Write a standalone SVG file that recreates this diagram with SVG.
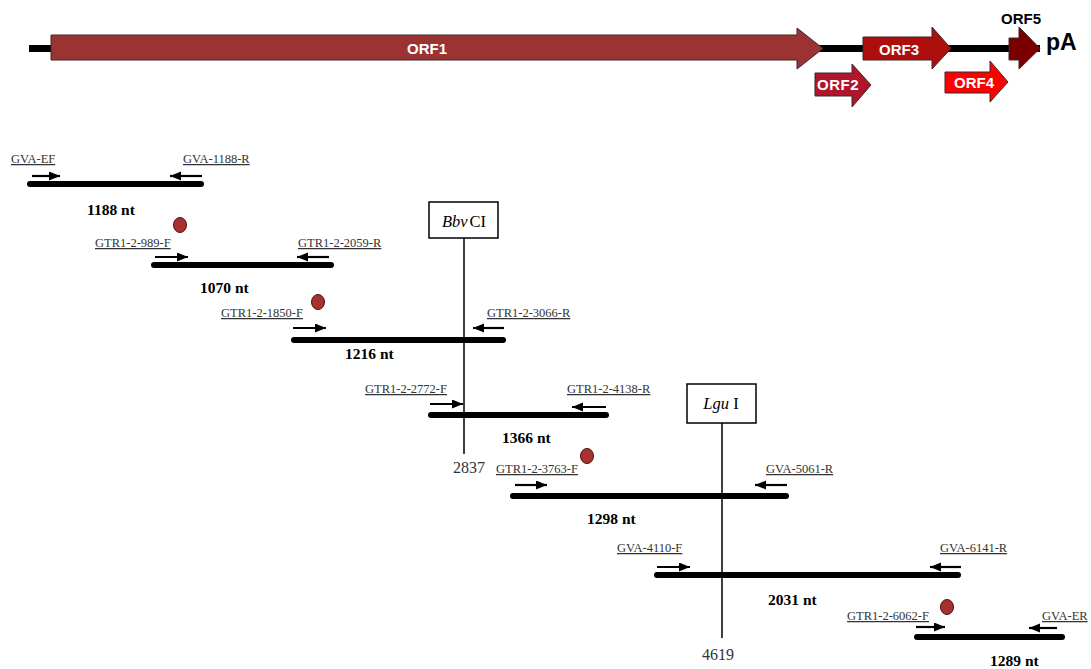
<svg xmlns="http://www.w3.org/2000/svg" width="1091" height="669" viewBox="0 0 1091 669">
<defs>
<style>
.orf{stroke:#3a2a2a;stroke-width:1}
.orft{font-family:"Liberation Sans",Arial,sans-serif;font-weight:bold;font-size:15px;fill:#fff;text-anchor:middle}
.lbl{font-family:"Liberation Serif","Times New Roman",serif;font-size:12.5px;fill:#333;text-decoration:underline}
.nt{font-family:"Liberation Serif","Times New Roman",serif;font-size:15.5px;font-weight:bold;fill:#000}
.pos{font-family:"Liberation Serif","Times New Roman",serif;font-size:16px;fill:#333;text-anchor:middle}
.bar{stroke:#000;stroke-width:6;stroke-linecap:round;fill:none}
.pr{stroke:#000;stroke-width:2.2;fill:none;marker-end:url(#ah)}
.dot{fill:#a83030;stroke:#4a1010;stroke-width:1}
.site{fill:#fff;stroke:#000;stroke-width:1.5}
.sitel{stroke:#000;stroke-width:1.5}
.enz{font-family:"Liberation Serif","Times New Roman",serif;font-size:16.5px;fill:#000;text-anchor:middle}
</style>
<marker id="ah" markerUnits="userSpaceOnUse" markerWidth="12" markerHeight="10" refX="11" refY="4.5" orient="auto">
<path d="M0,0 L11,4.5 L0,9 Z" fill="#000"/>
</marker>
</defs>
<rect width="1091" height="669" fill="#fff"/>

<g id="genome">
<line x1="29" y1="48.5" x2="1040" y2="48.5" stroke="#000" stroke-width="7"/>
</g>
<g id="orf1">
<polygon class="orf" fill="#9b3333" points="51,35 797,35 797,28 823,48.5 797,69 797,60 51,60"/>
<text class="orft" x="427" y="54">ORF1</text>
</g>
<g id="orf2">
<polygon class="orf" fill="#b0152e" points="815,73 852,73 852,64 871,85 852,107 852,96 815,96"/>
<text class="orft" x="838" y="90" letter-spacing="0.5">ORF2</text>
</g>
<g id="orf3">
<polygon class="orf" fill="#ad0f0f" points="863,37 932,37 932,27 951,48.5 932,69 932,60 863,60"/>
<text class="orft" x="899" y="55">ORF3</text>
</g>
<g id="orf4">
<polygon class="orf" fill="#ff0000" points="945,72 990,72 990,61 1008,82 990,102 990,93 945,93"/>
<text class="orft" x="974" y="88">ORF4</text>
</g>
<g id="orf5">
<polygon class="orf" fill="#7a0000" points="1009,38 1019,38 1019,27 1040,48.5 1019,69 1019,60 1009,60"/>
<text x="1021" y="24" font-family="Liberation Sans,Arial,sans-serif" font-weight="bold" font-size="15" fill="#000" text-anchor="middle">ORF5</text>
</g>
<g id="pA">
<text x="1046" y="50" font-family="Liberation Sans,Arial,sans-serif" font-weight="bold" font-size="23" fill="#000">pA</text>
</g>

<g id="site-BbvCI">
<rect class="site" x="429" y="202" width="69" height="36"/>
<line class="sitel" x1="464" y1="238" x2="464" y2="454"/>
<text class="enz" x="464" y="227"><tspan font-style="italic">Bbv</tspan><tspan dx="2">CI</tspan></text>
<text class="pos" x="469" y="473">2837</text>
</g>
<g id="site-LguI">
<rect class="site" x="687" y="384" width="69" height="39"/>
<line class="sitel" x1="722" y1="423" x2="722" y2="638"/>
<text class="enz" x="721" y="409"><tspan font-style="italic">Lgu</tspan> I</text>
<text class="pos" x="718" y="660">4619</text>
</g>

<g id="amp1">
<line class="bar" x1="30" y1="184" x2="201" y2="184"/>
<text class="lbl" x="11" y="163">GVA-EF</text>
<text class="lbl" x="183" y="163">GVA-1188-R</text>
<text class="nt" x="87" y="215">1188 nt</text>
</g>
<g id="amp2">
<line class="bar" x1="154" y1="265" x2="331" y2="265"/>
<ellipse class="dot" cx="180" cy="225" rx="6.5" ry="7.5"/>
<text class="lbl" x="95" y="247">GTR1-2-989-F</text>
<text class="lbl" x="298" y="247">GTR1-2-2059-R</text>
<text class="nt" x="200" y="293">1070 nt</text>
</g>
<g id="amp3">
<line class="bar" x1="294" y1="340" x2="503" y2="340"/>
<ellipse class="dot" cx="318" cy="302" rx="6.5" ry="7.5"/>
<text class="lbl" x="221" y="317">GTR1-2-1850-F</text>
<text class="lbl" x="487" y="317">GTR1-2-3066-R</text>
<text class="nt" x="345" y="359">1216 nt</text>
</g>
<g id="amp4">
<line class="bar" x1="431" y1="415" x2="606" y2="415"/>
<text class="lbl" x="365" y="393">GTR1-2-2772-F</text>
<text class="lbl" x="567" y="393">GTR1-2-4138-R</text>
<text class="nt" x="502" y="443">1366 nt</text>
</g>
<g id="amp5">
<line class="bar" x1="513" y1="496" x2="786" y2="496"/>
<ellipse class="dot" cx="587" cy="456" rx="6.5" ry="7.5"/>
<text class="lbl" x="496" y="473">GTR1-2-3763-F</text>
<text class="lbl" x="766" y="473">GVA-5061-R</text>
<text class="nt" x="587" y="524">1298 nt</text>
</g>
<g id="amp6">
<line class="bar" x1="657" y1="575" x2="958" y2="575"/>
<text class="lbl" x="617" y="552">GVA-4110-F</text>
<text class="lbl" x="940" y="552">GVA-6141-R</text>
<text class="nt" x="768" y="605">2031 nt</text>
</g>
<g id="amp7">
<line class="bar" x1="917" y1="637" x2="1062" y2="637"/>
<ellipse class="dot" cx="947" cy="607" rx="6.5" ry="7.5"/>
<text class="lbl" x="847" y="620">GTR1-2-6062-F</text>
<text class="lbl" x="1042" y="620">GVA-ER</text>
<text class="nt" x="990" y="666">1289 nt</text>
</g>

<g id="connectors">
<line class="pr" x1="32" y1="176" x2="60" y2="176"/>
<line class="pr" x1="202" y1="176" x2="170" y2="176"/>
<line class="pr" x1="155" y1="257" x2="188" y2="257"/>
<line class="pr" x1="329" y1="257" x2="297" y2="257"/>
<line class="pr" x1="293" y1="328" x2="326" y2="328"/>
<line class="pr" x1="504" y1="328" x2="473" y2="328"/>
<line class="pr" x1="430" y1="404" x2="463" y2="404"/>
<line class="pr" x1="606" y1="407" x2="572" y2="407"/>
<line class="pr" x1="515" y1="485" x2="547" y2="485"/>
<line class="pr" x1="787" y1="485" x2="755" y2="485"/>
<line class="pr" x1="657" y1="567" x2="690" y2="567"/>
<line class="pr" x1="961" y1="567" x2="930" y2="567"/>
<line class="pr" x1="916" y1="627" x2="945" y2="627"/>
<line class="pr" x1="1057" y1="628" x2="1029" y2="628"/>
</g>
</svg>
